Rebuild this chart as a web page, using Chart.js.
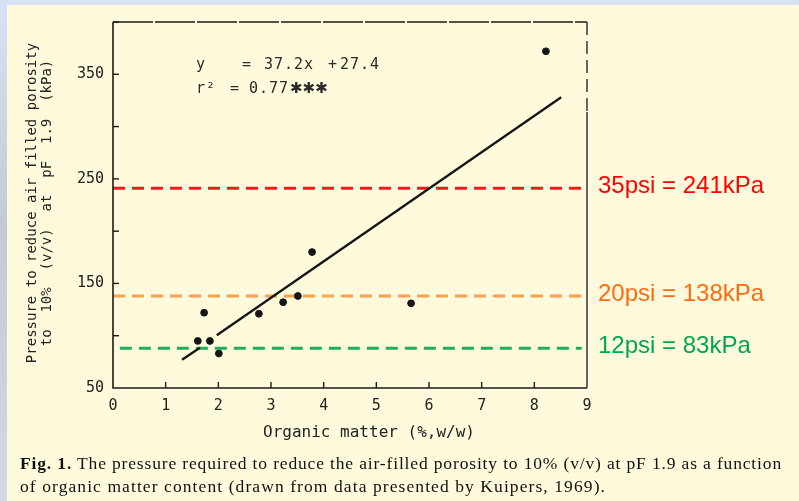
<!DOCTYPE html>
<html>
<head>
<meta charset="utf-8">
<script src="https://cdn.jsdelivr.net/npm/chart.js@4.4.0/dist/chart.umd.min.js"></script>
<style>
  html, body { margin: 0; padding: 0; }
  body {
    width: 799px; height: 501px; overflow: hidden; position: relative;
    background: linear-gradient(to bottom, #d6e3f5 0%, #c3cad4 45%, #d3d9e2 100%);
  }
  #panel { position: absolute; left: 7px; top: 5px; right: 0; bottom: 0; background: #fffadc; }
  #grafico { position: absolute; left: 0; top: 0; }
  .legenda { position: absolute; left: 20px; font-family: "Liberation Serif", serif; font-size: 17.5px; color: #111; white-space: nowrap; }
</style>
</head>
<body>
<div id="panel"></div>
<canvas id="grafico" width="799" height="501"></canvas>
<div class="legenda" id="cap1" style="top:453px"><b>Fig. 1.</b> The pressure required to reduce the air-filled porosity to 10% (v/v) at pF 1.9 as a function</div>
<div class="legenda" id="cap2" style="top:476px">of organic matter content (drawn from data presented by Kuipers, 1969).</div>
<script>
// dados
var materiaOrganica = [1.61, 1.73, 1.84, 2.01, 2.77, 3.23, 3.51, 3.78, 5.66, 8.22];
var pressao = [95, 122, 95, 83, 121, 132, 138, 180, 131, 372];

// reta de regressao (com a falha perto de x = 1.8)
var retaX = [1.31, 1.65, 1.8, 1.97, 8.51];
var retaY = [77, 88.5, null, 100.5, 328];

// linhas de referencia
var refKPa = [241, 138, 88];
var refInicio = [0, 0, 0.13];
var refFim = [8.9, 8.9, 8.9];
var refTexto = ['35psi = 241kPa', '20psi = 138kPa', '12psi = 83kPa'];
var refCorLinha = ['#f01c1c', '#f7a04d', '#1fae5a'];
var refCorTexto = ['#ff0000', '#ff6a10', '#00a651'];

var ticksY = [50, 150, 250, 350];

var datasets = [{
    type: 'scatter',
    data: materiaOrganica.map(function (x, i) { return { x: x, y: pressao[i] }; }),
    backgroundColor: '#151515',
    borderColor: '#151515',
    pointRadius: 3.4,
    pointStyle: 'circle'
}, {
    type: 'line',
    data: retaX.map(function (x, i) { return { x: x, y: retaY[i] }; }),
    borderColor: '#151515',
    borderWidth: 2.3,
    pointRadius: 0,
    spanGaps: false,
    fill: false
}];

for (var i = 0; i < refKPa.length; i++) {
    datasets.push({
        type: 'line',
        data: [{ x: refInicio[i], y: refKPa[i] }, { x: refFim[i], y: refKPa[i] }],
        borderColor: refCorLinha[i],
        borderWidth: 3,
        borderDash: [12, 7],
        pointRadius: 0,
        fill: false
    });
}

var fonteScan = '"DejaVu Sans Mono", monospace';

var extras = {
    id: 'extras',
    afterDraw: function (chart) {
        var ctx = chart.ctx;
        var a = chart.chartArea;
        var sx = chart.scales.x, sy = chart.scales.y;
        ctx.save();
        ctx.strokeStyle = '#1a1a1a';
        ctx.lineWidth = 1.6;
        // moldura: esquerda e base cheias
        ctx.beginPath();
        ctx.moveTo(a.left, a.top);
        ctx.lineTo(a.left, a.bottom);
        ctx.lineTo(a.right, a.bottom);
        ctx.stroke();
        // topo quase cheio, direita tracejada no alto (scan)
        ctx.lineWidth = 1.3;
        ctx.setLineDash([40, 2]);
        ctx.beginPath();
        ctx.moveTo(a.left, a.top);
        ctx.lineTo(a.right, a.top);
        ctx.stroke();
        ctx.setLineDash([13, 6]);
        ctx.beginPath();
        ctx.moveTo(a.right, a.top);
        ctx.lineTo(a.right, a.top + 90);
        ctx.stroke();
        ctx.setLineDash([]);
        ctx.beginPath();
        ctx.moveTo(a.right, a.top + 90);
        ctx.lineTo(a.right, a.bottom);
        ctx.stroke();
        // marcas para dentro
        ctx.lineWidth = 1.4;
        for (var v = 100; v <= 400; v += 50) {
            var py = sy.getPixelForValue(v);
            ctx.beginPath();
            ctx.moveTo(a.left, py);
            ctx.lineTo(a.left + 6, py);
            ctx.stroke();
        }
        for (var k = 1; k <= 8; k++) {
            var px = sx.getPixelForValue(k);
            ctx.beginPath();
            ctx.moveTo(px, a.bottom);
            ctx.lineTo(px, a.bottom - 6);
            ctx.stroke();
        }
        // rotulos das linhas de referencia
        ctx.font = '24px "Liberation Sans", Arial, sans-serif';
        ctx.textAlign = 'left';
        ctx.textBaseline = 'middle';
        for (var j = 0; j < refKPa.length; j++) {
            ctx.fillStyle = refCorTexto[j];
            ctx.fillText(refTexto[j], 598, sy.getPixelForValue(refKPa[j]) - 2);
        }
        // equacao
        ctx.fillStyle = '#2a2a2a';
        ctx.font = '15px ' + fonteScan;
        ctx.letterSpacing = '1px';
        ctx.textAlign = 'left';
        ctx.fillText('y', 196, 65);
        ctx.fillText('=', 242, 65);
        ctx.fillText('37.2x', 264, 65);
        ctx.fillText('+', 328, 65);
        ctx.fillText('27.4', 340, 65);
        ctx.fillText('r²', 196, 89);
        ctx.fillText('=', 230, 89);
        ctx.fillText('0.77', 249, 89);
        ctx.letterSpacing = '0px';
        ctx.font = 'bold 15px "DejaVu Sans", sans-serif';
        ctx.fillText('✱✱✱', 290, 89);
        // titulos dos eixos
        ctx.fillStyle = '#222';
        ctx.font = '16px ' + fonteScan;
        ctx.textAlign = 'center';
        ctx.fillText('Organic matter (%,w/w)', 369, 433);
        ctx.save();
        ctx.translate(0, 203);
        ctx.rotate(-Math.PI / 2);
        ctx.font = '14px ' + fonteScan;
        ctx.fillText('Pressure to reduce air filled porosity', 0, 32);
        ctx.fillText('to  10%  (v/v)  at  pF  1.9  (kPa)', 0, 47);
        ctx.restore();
        ctx.restore();
    }
};

var grafico = new Chart(document.getElementById('grafico').getContext('2d'), {
    data: { datasets: datasets },
    options: {
        responsive: false,
        animation: false,
        layout: { padding: { top: 22, right: 212, left: 0, bottom: 0 } },
        plugins: { legend: { display: false }, tooltip: { enabled: false } },
        scales: {
            x: {
                type: 'linear', min: 0, max: 9,
                grid: { display: false, drawTicks: false },
                border: { display: false },
                ticks: { stepSize: 1, padding: 9, color: '#222', font: { family: fonteScan, size: 15 } },
                afterFit: function (s) { s.height = 113; }
            },
            y: {
                type: 'linear', min: 50, max: 400,
                grid: { display: false, drawTicks: false },
                border: { display: false },
                ticks: {
                    stepSize: 50, padding: 9, color: '#222', font: { family: fonteScan, size: 15 },
                    callback: function (v) { return ticksY.indexOf(v) >= 0 ? String(v) : ''; }
                },
                afterFit: function (s) { s.width = 113; }
            }
        }
    },
    plugins: [extras]
});

// ajusta a legenda para a largura da figura
function ajusta(id, largura) {
    var el = document.getElementById(id);
    var n = el.textContent.length;
    var w = el.getBoundingClientRect().width;
    el.style.letterSpacing = ((largura - w) / n) + 'px';
}
ajusta('cap1', 762);
ajusta('cap2', 586);
</script>
</body>
</html>
